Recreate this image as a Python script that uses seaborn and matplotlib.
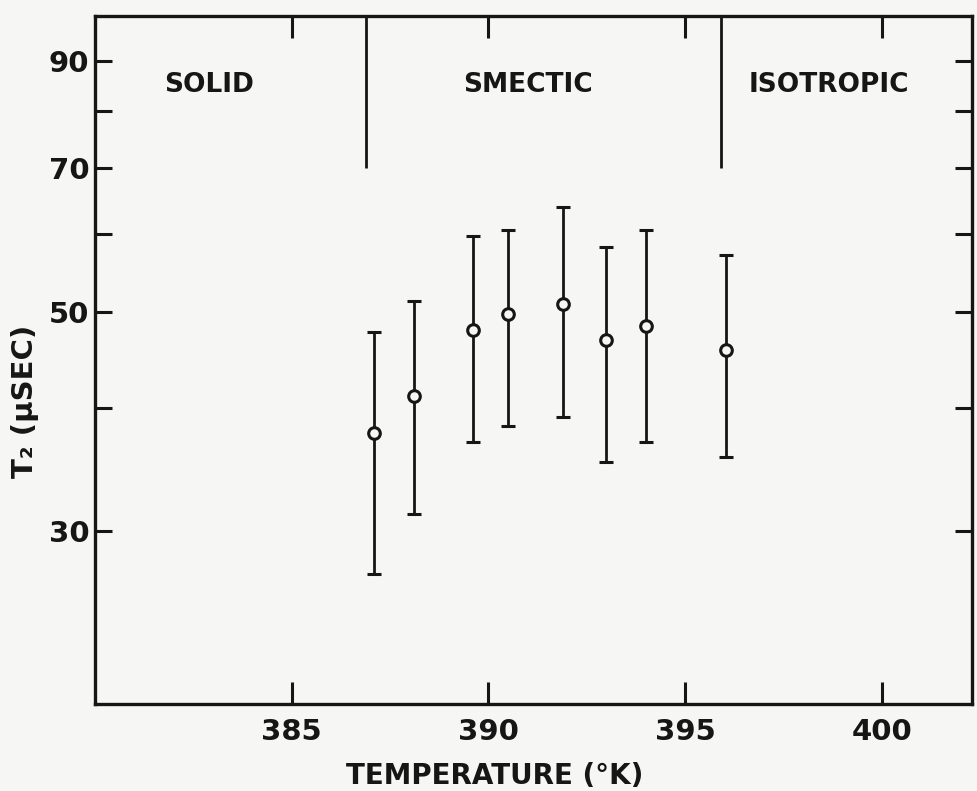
import matplotlib

matplotlib.use("Agg")
import matplotlib.pyplot as plt
import matplotlib.ticker as mticker
import pandas as pd
import seaborn as sns

# T2 vs temperature
temperature = [387.1, 388.1, 389.6, 390.5, 391.9, 393.0, 394.0, 396.05]
t2 = [37.7, 41.1, 48.0, 49.8, 51.0, 46.9, 48.4, 45.8]
t2_low = [27.1, 31.2, 36.9, 38.3, 39.1, 35.2, 36.9, 35.6]
t2_high = [47.7, 51.3, 59.8, 60.6, 64.0, 58.3, 60.6, 57.1]

phase_bounds = [386.9, 395.9]
phase_names = ["SOLID", "SMECTIC", "ISOTROPIC"]
phase_label_x = [382.9, 391.0, 398.65]

x_ticks = [385, 390, 395, 400]
y_ticks = [30, 40, 50, 60, 70, 80, 90]
y_tick_labels = ["30", "", "50", "", "70", "", "90"]

data = pd.DataFrame({"temperature": temperature, "t2": t2, "low": t2_low, "high": t2_high})

sns.set_theme(style="ticks")
plt.rcParams["font.family"] = ["DejaVu Sans"]
plt.rcParams["font.weight"] = "bold"

ink = "#161616"
paper = "#f6f6f4"

fig = plt.figure(figsize=(9.77, 7.91), dpi=100, facecolor=paper)
ax = fig.add_axes([0.0972, 0.110, 0.898, 0.870])
ax.set_facecolor(paper)

ax.set_yscale("log")
ax.set_xlim(380, 402.3)
ax.set_ylim(20, 100)

ax.errorbar(
    data["temperature"],
    data["t2"],
    yerr=[data["t2"] - data["low"], data["high"] - data["t2"]],
    fmt="none",
    ecolor=ink,
    elinewidth=2.0,
    capsize=5,
    capthick=2.2,
    zorder=2,
)
sns.scatterplot(
    data=data,
    x="temperature",
    y="t2",
    ax=ax,
    marker="o",
    s=70,
    facecolor=paper,
    edgecolor=ink,
    linewidth=2.2,
    zorder=3,
    legend=False,
)

# phase boundaries from the top edge down to 70
ax.vlines(phase_bounds, 70, 100, colors=ink, linewidth=2.0)
for name, xpos in zip(phase_names, phase_label_x):
    ax.text(xpos, 85, name, ha="center", va="center", fontsize=19,
            fontweight="bold", color=ink)

ax.xaxis.set_major_locator(mticker.FixedLocator(x_ticks))
ax.set_xticklabels([str(v) for v in x_ticks])
ax.yaxis.set_major_locator(mticker.FixedLocator(y_ticks))
ax.yaxis.set_minor_locator(mticker.NullLocator())
ax.set_yticklabels(y_tick_labels)

ax.tick_params(axis="x", which="major", direction="in", top=True, bottom=True,
               length=16, width=2.2, labelsize=21, colors=ink, pad=10)
ax.tick_params(axis="y", which="major", direction="in", left=True, right=True,
               length=12, width=2.2, labelsize=21, colors=ink, pad=4)

for spine in ax.spines.values():
    spine.set_visible(True)
    spine.set_linewidth(2.4)
    spine.set_color(ink)

ax.set_xlabel("TEMPERATURE (°K)", fontsize=20, fontweight="bold", color=ink)
ax.xaxis.set_label_coords(0.456, -0.084)
ax.set_ylabel("T₂ (μSEC)", fontsize=21, fontweight="bold", color=ink)
ax.yaxis.set_label_coords(-0.064, 0.44)

fig.savefig("out.png", dpi=100, facecolor=paper)
plt.close(fig)
